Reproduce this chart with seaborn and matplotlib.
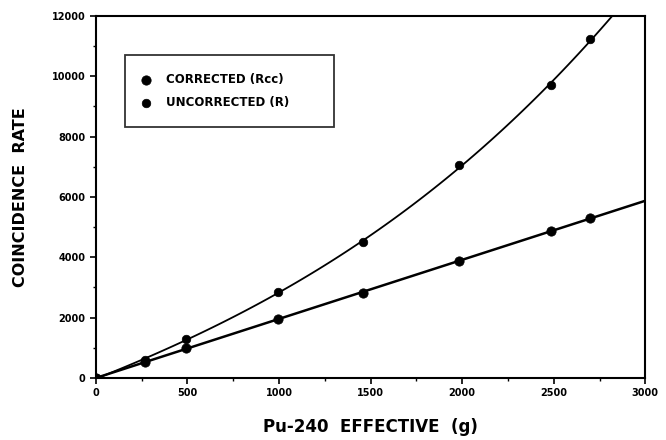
from matplotlib import pyplot as plt
import seaborn as sns
import pandas as pd

# Pu-240 effective mass (g)
pu_mass = [0, 270, 490, 995, 1460, 1985, 2485, 2700]
# coincidence rates
corrected = [0, 520, 990, 1950, 2820, 3880, 4870, 5300]
uncorrected = [0, 580, 1290, 2850, 4500, 7050, 9700, 11220]

x_ticks = [0, 500, 1000, 1500, 2000, 2500, 3000]
y_ticks = [0, 2000, 4000, 6000, 8000, 10000, 12000]


def main():
    df = pd.DataFrame({'mass': pu_mass, 'corr': corrected, 'uncorr': uncorrected})

    sns.set_style('ticks')
    plt.rcParams['font.family'] = ['DejaVu Sans']
    plt.rcParams['text.color'] = 'black'
    plt.rcParams['axes.labelcolor'] = 'black'
    plt.rcParams['xtick.color'] = 'black'
    plt.rcParams['ytick.color'] = 'black'
    fig = plt.figure(figsize=(6.66, 4.4), dpi=100)
    ax = fig.add_axes([0.144, 0.141, 0.825, 0.823])
    ax.set_xlim(0, 3000)
    ax.set_ylim(0, 12000)

    # fitted lines, drawn by seaborn's regression
    sns.regplot(data=df, x='mass', y='corr', order=1, ci=None, truncate=False,
                scatter=False, color='black', line_kws={'linewidth': 1.8}, ax=ax)
    sns.regplot(data=df, x='mass', y='uncorr', order=3, ci=None, truncate=False,
                scatter=False, color='black', line_kws={'linewidth': 1.3}, ax=ax)

    # measured points
    sns.scatterplot(data=df, x='mass', y='corr', color='black', s=45,
                    edgecolor='black', label='CORRECTED (Rcc)', ax=ax, zorder=5)
    sns.scatterplot(data=df, x='mass', y='uncorr', color='black', s=38,
                    edgecolor='black', label='UNCORRECTED (R)', ax=ax, zorder=5)

    ax.set_xlim(0, 3000)
    ax.set_ylim(0, 12000)
    ax.set_xticks(x_ticks)
    ax.set_yticks(y_ticks)
    ax.set_yticks(range(1000, 12000, 2000), minor=True)
    ax.set_xticks(range(250, 3000, 500), minor=True)
    ax.tick_params(axis='both', labelsize=7, width=1.2, length=4, color='black')
    ax.tick_params(which='minor', length=2.5, width=1)
    for lbl in ax.get_xticklabels() + ax.get_yticklabels():
        lbl.set_fontweight('bold')
    for sp in ax.spines.values():
        sp.set_visible(True)
        sp.set_color('black')
        sp.set_linewidth(1.5)

    ax.set_xlabel('Pu-240  EFFECTIVE  (g)', fontweight='bold', fontsize=12, labelpad=14)
    ax.set_ylabel('COINCIDENCE  RATE', fontweight='bold', fontsize=11.5, labelpad=17)

    leg = ax.legend(loc='upper left', bbox_to_anchor=(0.053, 0.892, 0.38, 0.0),
                    mode='expand', frameon=True,
                    fancybox=False, edgecolor='black', fontsize=8.5,
                    borderpad=1.5, labelspacing=0.9, handlelength=0.6,
                    handletextpad=1.4, borderaxespad=0)
    leg.get_frame().set_linewidth(1.3)
    for t in leg.get_texts():
        t.set_fontweight('bold')
        t.set_color('black')

    fig.savefig('out.png', dpi=100)


if __name__ == "__main__":
    main()
